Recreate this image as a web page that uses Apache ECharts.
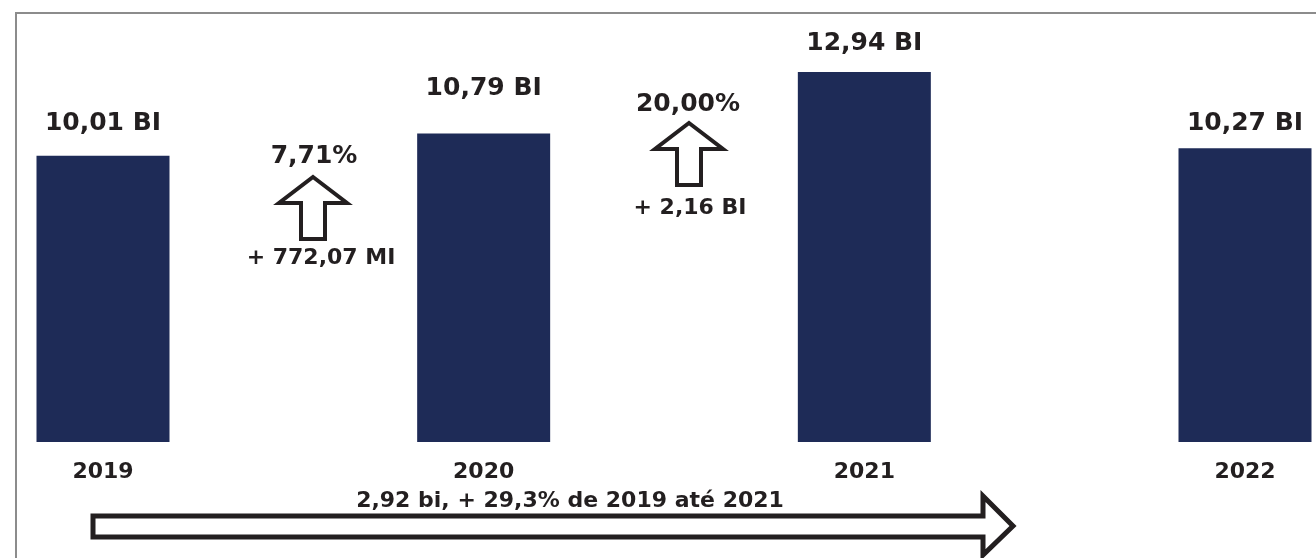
<!DOCTYPE html>
<html>
<head>
<meta charset="utf-8">
<script src="https://cdn.jsdelivr.net/npm/echarts@6/dist/echarts.min.js"></script>
<style>
  html, body { margin: 0; padding: 0; background: #fff; }
  #main { width: 1316px; height: 558px; }
</style>
</head>
<body>
<div id="main"></div>
<script>
const years = ["2019", "2020", "2021", "2022"];
const totals = [10.01, 10.79, 12.94, 10.27]; // em bilhões
const growthPct = ["7,71%", "20,00%"];
const growthAbs = ["+ 772,07 MI", "+ 2,16 BI"];
const summaryText = "2,92 bi, + 29,3% de 2019 até 2021";

const FONT = "'DejaVu Sans'";
const INK = "#231f20";
const NAVY = "#1e2b57";

// seta para cima (contorno)
function upArrow(cx, top) {
  const hw = 34, sw = 12, head = 26, h = 62;
  return {
    type: "polygon",
    shape: {
      points: [
        [cx, top], [cx + hw, top + head], [cx + sw, top + head],
        [cx + sw, top + h], [cx - sw, top + h], [cx - sw, top + head],
        [cx - hw, top + head]
      ]
    },
    style: { fill: "#fff", stroke: INK, lineWidth: 4, lineJoin: "miter" }
  };
}

function label(text, x, y, size) {
  return {
    type: "text",
    x: x, y: y,
    style: {
      text: text, fill: INK,
      fontFamily: FONT, fontWeight: "bold", fontSize: size,
      textAlign: "center", textVerticalAlign: "middle"
    }
  };
}

const labelGap = [20, 32, 16, 12];

const chart = echarts.init(document.getElementById("main"));
chart.setOption({
  animation: false,
  grid: { left: 103, right: 71, top: 13, bottom: 116 },
  xAxis: {
    type: "category",
    data: years,
    boundaryGap: false,
    axisLine: { show: false },
    axisTick: { show: false },
    axisLabel: {
      margin: 19,
      color: INK,
      fontFamily: FONT,
      fontWeight: "bold",
      fontSize: 22
    }
  },
  yAxis: { type: "value", min: 0, max: 15, show: false },
  series: [{
    type: "bar",
    clip: false,
    barWidth: 133,
    itemStyle: { color: NAVY },
    data: totals.map((v, i) => ({ value: v, label: { distance: labelGap[i] } })),
    label: {
      show: true,
      position: "top",
      color: INK,
      fontFamily: FONT,
      fontWeight: "bold",
      fontSize: 25,
      formatter: p => p.value.toFixed(2).replace(".", ",") + " BI"
    }
  }],
  graphic: [
    {
      type: "rect",
      shape: { x: 16, y: 13, width: 1320, height: 570 },
      style: { fill: null, stroke: "#8c8c8c", lineWidth: 2 }
    },
    upArrow(313, 177),
    label(growthPct[0], 314, 156, 25),
    label(growthAbs[0], 321, 258, 22),
    upArrow(689, 123),
    label(growthPct[1], 688, 104, 25),
    label(growthAbs[1], 690, 208, 22),
    {
      type: "polygon",
      shape: {
        points: [[93, 516], [983, 516], [983, 496], [1013, 526],
                 [983, 555], [983, 537], [93, 537]]
      },
      style: { fill: "#fff", stroke: INK, lineWidth: 5, lineJoin: "miter" }
    },
    label(summaryText, 570, 501, 22)
  ]
});
</script>
</body>
</html>
